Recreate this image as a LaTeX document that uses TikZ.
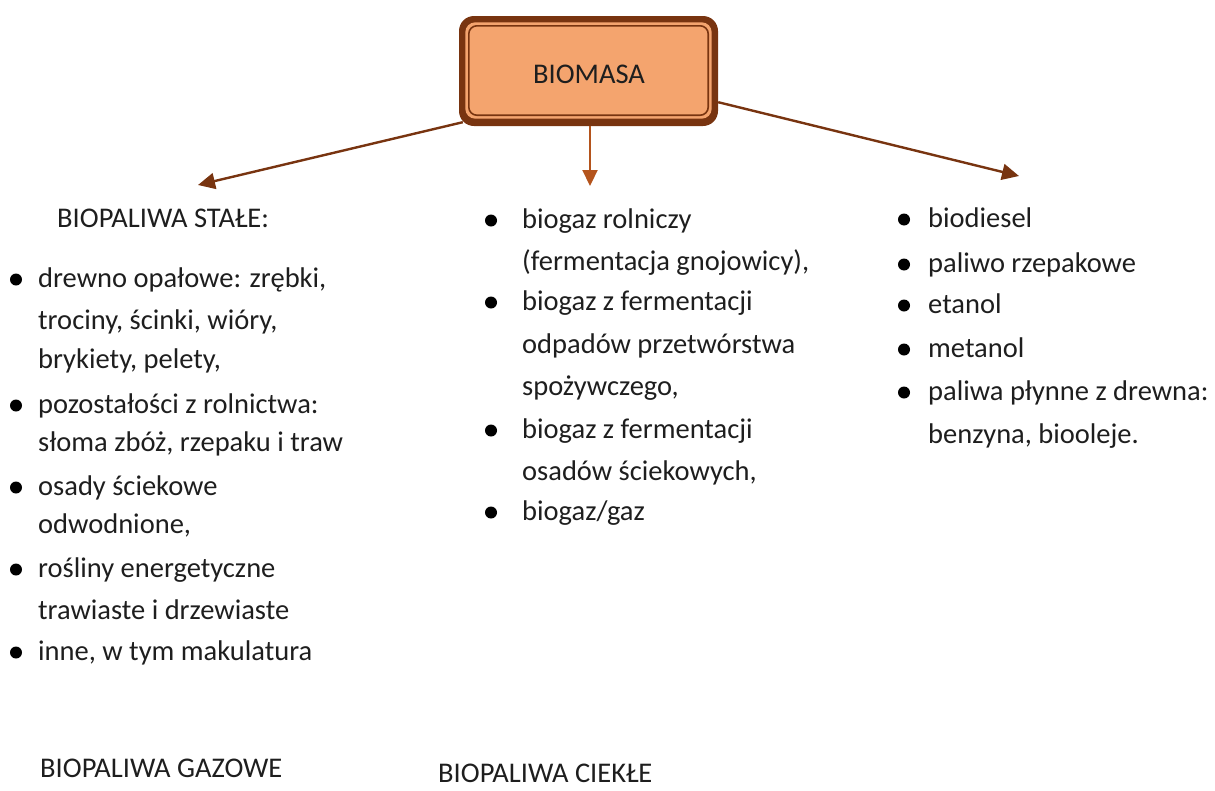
\documentclass[tikz,border=0pt]{standalone}
\usepackage{fontspec}
\setmainfont{Carlito}
\usetikzlibrary{arrows.meta}
\definecolor{dbrown}{HTML}{783410}
\definecolor{morange}{HTML}{B4541C}
\definecolor{lorange}{HTML}{F4A46E}
\definecolor{ink}{HTML}{1E1E1E}
\begin{document}
\begin{tikzpicture}[x=1pt,y=-1pt,
  txt/.style={anchor=base west, inner sep=0pt, font=\fontsize{28.5}{34}\selectfont, text=ink},
  blt/.style={circle, fill=black, inner sep=0pt, minimum size=12pt},
  arr/.style={draw=dbrown, line width=2.4pt, -{Triangle[length=17pt,width=16pt]}},
  arrmid/.style={draw=morange, line width=2.2pt, -{Triangle[length=16pt,width=15pt]}},
  boxouter/.style={fill=dbrown, rounded corners=15pt, minimum width=259pt, minimum height=110pt, inner sep=0pt}]
\useasboundingbox (0,0) rectangle (1215,790);

% central box
\node[boxouter] (bio) at (588.5,71) {};
\fill[lorange, rounded corners=10pt] ([shift={(6.5,6.5)}]bio.north west) rectangle ([shift={(-6.5,-7.5)}]bio.south east);
\draw[dbrown, line width=1.6pt, rounded corners=8pt] ([shift={(10,10)}]bio.north west) rectangle ([shift={(-10,-11)}]bio.south east);
\node[txt, anchor=base] (biot) at (589,83) {BIOMASA};

% arrow targets
\coordinate (tl) at (198,185);
\coordinate (tm) at (590,186);
\coordinate (tr) at (1019,176);
\draw[arr] ([shift={(4,-4)}]bio.south west) -- (tl);
\draw[arrmid] ([xshift=1.5pt]bio.south) -- (tm);
\draw[arr] ([shift={(0,-24)}]bio.south east) -- (tr);

% column 1
\node[txt] (h1) at (57,227) {BIOPALIWA STAŁE:};
\node[txt] (a1) at (38,287) {drewno opałowe: zrębki,};
\node[txt] (a2) at (38,329) {trociny, ścinki, wióry,};
\node[txt] (a3) at (38,368) {brykiety, pelety,};
\node[txt] (a4) at (38,413) {pozostałości z rolnictwa:};
\node[txt] (a5) at (38,451) {słoma zbóż, rzepaku i traw};
\node[txt] (a6) at (38,495) {osady ściekowe};
\node[txt] (a7) at (38,533) {odwodnione,};
\node[txt] (a8) at (38,577) {rośliny energetyczne};
\node[txt] (a9) at (38,619) {trawiaste i drzewiaste};
\node[txt] (a10) at (38,660) {inne, w tym makulatura};
\foreach \y/\n in {287/1,413/2,495/3,577/4,660/5}
  \node[blt] (ba\n) at (16,\y-7.5) {};

% column 2
\node[txt] (b1) at (522,228) {biogaz rolniczy};
\node[txt] (b2) at (522,270) {(fermentacja gnojowicy),};
\node[txt] (b3) at (522,310) {biogaz z fermentacji};
\node[txt] (b4) at (522,353) {odpadów przetwórstwa};
\node[txt] (b5) at (522,395) {spożywczego,};
\node[txt] (b6) at (522,438) {biogaz z fermentacji};
\node[txt] (b7) at (522,480) {osadów ściekowych,};
\node[txt] (b8) at (522,520) {biogaz/gaz};
\foreach \y/\n in {228/1,310/2,438/3,520/4}
  \node[blt] (bb\n) at (491,\y-7.5) {};

% column 3
\node[txt] (c1) at (928,227) {biodiesel};
\node[txt] (c2) at (928,272) {paliwo rzepakowe};
\node[txt] (c3) at (928,313) {etanol};
\node[txt] (c4) at (928,357) {metanol};
\node[txt] (c5) at (928,400) {paliwa płynne z drewna:};
\node[txt] (c6) at (928,443) {benzyna, biooleje.};
\foreach \y/\n in {227/1,272/2,313/3,357/4,400/5}
  \node[blt] (bc\n) at (904,\y-7.5) {};

% bottom labels
\node[txt] (g1) at (40,777) {BIOPALIWA GAZOWE};
\node[txt] (g2) at (438,782) {BIOPALIWA CIEKŁE};
\end{tikzpicture}
\end{document}
